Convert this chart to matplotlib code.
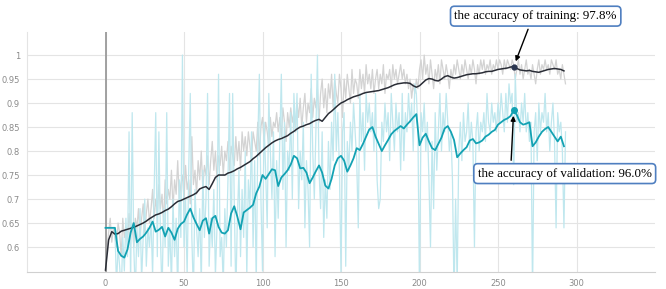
import numpy as np
import matplotlib
matplotlib.use("Agg")
import matplotlib.pyplot as plt

# ---------------------------------------------------------------------------
# data
# ---------------------------------------------------------------------------

# raw training accuracy, one value per epoch (0..293)
train_raw = [
    0.55, 0.60, 0.63, 0.66, 0.61, 0.64, 0.62, 0.60, 0.65, 0.63,
    0.58, 0.66, 0.62, 0.64, 0.61, 0.67, 0.63, 0.65, 0.60, 0.66,
    0.64, 0.68, 0.62, 0.66, 0.69, 0.63, 0.67, 0.70, 0.65, 0.68,
    0.72, 0.66, 0.70, 0.67, 0.73, 0.68, 0.71, 0.65, 0.74, 0.69,
    0.72, 0.70, 0.76, 0.68, 0.74, 0.71, 0.78, 0.70, 0.73, 0.75,
    0.70, 0.77, 0.72, 0.74, 0.69, 0.83, 0.73, 0.76, 0.71, 0.78,
    0.74, 0.80, 0.72, 0.77, 0.75, 0.79, 0.73, 0.78, 0.82, 0.76,
    0.80, 0.74, 0.79, 0.77, 0.81, 0.75, 0.80, 0.78, 0.82, 0.76,
    0.81, 0.79, 0.77, 0.83, 0.78, 0.82, 0.76, 0.84, 0.80, 0.83,
    0.79, 0.84, 0.81, 0.78, 0.84, 0.82, 0.80, 0.86, 0.79, 0.85,
    0.87, 0.82, 0.86, 0.84, 0.81, 0.87, 0.83, 0.86, 0.85, 0.88,
    0.84, 0.87, 0.83, 0.89, 0.86, 0.82, 0.88, 0.85, 0.89, 0.86,
    0.88, 0.84, 0.90, 0.87, 0.91, 0.85, 0.89, 0.92, 0.86, 0.90,
    0.88, 0.93, 0.87, 0.91, 0.89, 0.93, 0.86, 0.92, 0.95, 0.89,
    0.93, 0.88, 0.94, 0.91, 0.96, 0.89, 0.95, 0.92, 0.90, 0.96,
    0.93, 0.87, 0.95, 0.91, 0.96, 0.93, 0.90, 0.97, 0.92, 0.95,
    0.94, 0.91, 0.97, 0.93, 0.96, 0.92, 0.98, 0.94, 0.96, 0.93,
    0.97, 0.92, 0.95, 0.97, 0.93, 0.96, 0.94, 0.98, 0.92, 0.96,
    0.95, 0.97, 0.93, 0.98, 0.95, 0.97, 0.94, 0.96, 0.98, 0.95,
    0.97, 0.94, 0.96, 0.93, 0.95, 0.91, 0.94, 0.92, 0.95, 0.93,
    0.97, 0.99, 0.95, 1.00, 0.96, 0.98, 0.94, 0.99, 0.96, 0.93,
    0.97, 0.95, 0.98, 0.94, 0.99, 0.97, 0.95, 0.98, 0.96, 0.93,
    0.97, 0.95, 0.98, 0.96, 0.99, 0.97, 0.95, 0.98, 0.96, 0.99,
    0.97, 0.95, 0.98, 0.96, 0.99, 0.97, 0.94, 0.98, 0.96, 0.99,
    0.97, 0.99, 0.96, 0.98, 0.97, 0.99, 0.96, 0.98, 0.97, 0.99,
    0.97, 0.99, 0.98, 0.96, 0.99, 0.97, 0.99, 0.98, 0.97, 0.99,
    0.98, 0.95, 0.97, 0.99, 0.96, 0.98, 0.95, 0.97, 0.99, 0.96,
    0.97, 0.95, 0.98, 0.96, 0.94, 0.97, 0.99, 0.96, 0.98, 0.97,
    0.99, 0.97, 0.98, 0.96, 0.99, 0.98, 0.97, 0.99, 0.96, 0.97,
    0.95, 0.98, 0.96, 0.94,
]

# raw validation accuracy, one value per epoch (0..293)
val_raw = [
    0.64, 0.64, 0.64, 0.64, 0.64, 0.64, 0.64, 0.52, 0.60, 0.56,
    0.50, 0.62, 0.55, 0.66, 0.58, 0.84, 0.52, 0.88, 0.60, 0.50,
    0.64, 0.58, 0.68, 0.53, 0.62, 0.70, 0.56, 0.64, 0.60, 0.66,
    0.54, 0.72, 0.88, 0.58, 0.84, 0.62, 0.50, 0.68, 0.60, 0.88,
    0.56, 0.64, 0.52, 0.70, 0.58, 0.66, 0.50, 0.74, 0.62, 1.00,
    0.60, 0.70, 0.54, 0.76, 0.92, 0.62, 0.50, 0.72, 0.64, 0.58,
    0.68, 0.52, 0.76, 0.62, 0.70, 0.92, 0.56, 0.66, 0.60, 0.72,
    0.54, 0.64, 0.96, 0.58, 0.62, 0.52, 0.68, 0.60, 0.74, 0.92,
    0.56, 0.92, 0.70, 0.50, 0.66, 0.76, 0.58, 0.72, 0.62, 0.80,
    0.54, 0.74, 0.68, 0.84, 0.60, 0.78, 0.52, 0.82, 0.96, 0.70,
    0.55, 0.86, 0.76, 0.64, 0.92, 0.80, 0.70, 0.84, 0.58, 0.78,
    0.66, 0.82, 0.96, 0.72, 0.86, 0.60, 0.80, 0.76, 0.88, 0.70,
    0.92, 0.84, 0.92, 0.68, 0.80, 0.74, 0.86, 0.64, 0.78, 0.72,
    0.60, 0.96, 0.80, 0.70, 0.84, 1.00, 0.76, 0.68, 0.84, 0.62,
    0.74, 0.66, 0.82, 0.72, 0.86, 0.78, 0.96, 0.80, 0.88, 0.76,
    0.54, 0.84, 0.88, 0.56, 0.82, 0.76, 0.86, 0.80, 0.90, 0.84,
    0.78, 0.64, 0.92, 0.82, 0.88, 0.76, 0.92, 0.86, 0.90, 0.84,
    0.88, 0.80, 0.92, 0.74, 0.68, 0.70, 0.86, 0.82, 0.90, 0.84,
    0.88, 0.78, 0.92, 0.86, 0.80, 0.90, 0.84, 0.88, 0.76, 0.92,
    0.78, 0.88, 0.84, 0.92, 0.86, 0.90, 0.80, 0.94, 0.92, 0.84,
    0.50, 0.88, 0.84, 0.90, 0.80, 0.86, 0.74, 0.60, 0.82, 0.68,
    0.88, 0.76, 0.84, 0.92, 0.80, 0.88, 0.84, 0.92, 0.86, 0.80,
    0.84, 0.74, 0.50, 0.70, 0.52, 0.80, 0.86, 0.78, 0.88, 0.82,
    0.84, 0.90, 0.80, 0.86, 0.82, 0.60, 0.84, 0.88, 0.80, 0.86,
    0.84, 0.88, 0.82, 0.92, 0.86, 0.84, 0.90, 0.86, 0.88, 0.84,
    0.90, 0.86, 0.92, 0.88, 0.84, 0.92, 0.86, 0.94, 0.90, 0.92,
    0.73, 0.96, 0.86, 0.88, 0.84, 0.90, 0.86, 0.92, 0.84, 0.88,
    0.82, 0.86, 0.50, 0.84, 0.88, 0.78, 0.90, 0.84, 0.88, 0.86,
    0.92, 0.84, 0.88, 0.80, 0.86, 0.90, 0.82, 0.64, 0.88, 0.84,
    0.86, 0.80, 0.64, 0.84,
]

# smoothed curves, every second epoch (0, 2, ..., 292)
train_smooth = [
    0.552, 0.615, 0.632, 0.627, 0.628, 0.633, 0.635, 0.637, 0.639, 0.641,
    0.644, 0.647, 0.650, 0.654, 0.659, 0.663, 0.667, 0.669, 0.672, 0.676,
    0.679, 0.684, 0.690, 0.695, 0.697, 0.700, 0.703, 0.706, 0.709, 0.713,
    0.721, 0.724, 0.726, 0.720, 0.732, 0.745, 0.750, 0.750, 0.750, 0.754,
    0.756, 0.759, 0.763, 0.766, 0.770, 0.774, 0.778, 0.784, 0.789, 0.795,
    0.801, 0.807, 0.812, 0.817, 0.821, 0.824, 0.826, 0.829, 0.832, 0.837,
    0.841, 0.846, 0.850, 0.852, 0.855, 0.857, 0.861, 0.864, 0.866, 0.862,
    0.870, 0.878, 0.883, 0.889, 0.895, 0.900, 0.903, 0.907, 0.910, 0.913,
    0.915, 0.917, 0.920, 0.922, 0.923, 0.924, 0.925, 0.926, 0.928, 0.930,
    0.932, 0.935, 0.938, 0.940, 0.941, 0.942, 0.942, 0.941, 0.936, 0.933,
    0.936, 0.942, 0.948, 0.951, 0.950, 0.947, 0.946, 0.950, 0.955, 0.957,
    0.954, 0.952, 0.953, 0.955, 0.957, 0.959, 0.960, 0.961, 0.961, 0.962,
    0.963, 0.965, 0.966, 0.966, 0.968, 0.970, 0.971, 0.972, 0.973, 0.975,
    0.976, 0.972, 0.969, 0.968, 0.967, 0.968, 0.966, 0.965, 0.964, 0.966,
    0.968, 0.970, 0.971, 0.972, 0.971, 0.970, 0.967,
]
val_smooth = [
    0.640, 0.640, 0.640, 0.640, 0.592, 0.582, 0.578, 0.595, 0.630, 0.650,
    0.610, 0.617, 0.622, 0.630, 0.640, 0.653, 0.632, 0.636, 0.642, 0.622,
    0.640, 0.630, 0.615, 0.638, 0.648, 0.653, 0.668, 0.680, 0.662, 0.648,
    0.635, 0.655, 0.660, 0.628, 0.660, 0.665, 0.642, 0.630, 0.628, 0.635,
    0.670, 0.685, 0.663, 0.637, 0.672, 0.677, 0.682, 0.688, 0.712, 0.726,
    0.750, 0.742, 0.752, 0.762, 0.760, 0.727, 0.745, 0.752, 0.760, 0.772,
    0.790, 0.785, 0.764, 0.765, 0.755, 0.733, 0.745, 0.758, 0.770, 0.755,
    0.728, 0.722, 0.742, 0.770, 0.785, 0.790, 0.780, 0.757, 0.770, 0.785,
    0.806, 0.802, 0.815, 0.830, 0.845, 0.850, 0.830, 0.815, 0.800, 0.812,
    0.823, 0.835, 0.842, 0.847, 0.852, 0.847, 0.855, 0.862, 0.870, 0.877,
    0.812, 0.828, 0.836, 0.820, 0.806, 0.802, 0.815, 0.828, 0.847, 0.852,
    0.840, 0.823, 0.787, 0.795, 0.802, 0.808, 0.822, 0.825, 0.816, 0.818,
    0.822, 0.830, 0.834, 0.840, 0.844, 0.855, 0.860, 0.865, 0.868, 0.873,
    0.885, 0.875, 0.860, 0.855, 0.857, 0.860, 0.810, 0.818, 0.830, 0.840,
    0.846, 0.850, 0.840, 0.830, 0.820, 0.830, 0.810,
]

epochs_raw = np.arange(len(train_raw))
epochs_smooth = np.arange(len(train_smooth)) * 2

train_label = "the accuracy of training: 97.8%"
val_label = "the accuracy of validation: 96.0%"

# ---------------------------------------------------------------------------
# plot
# ---------------------------------------------------------------------------

fig = plt.figure(figsize=(6.66, 2.89), dpi=100)
ax = fig.add_axes([27 / 666, 17 / 289, 628 / 666, 240 / 289])

ax.plot(epochs_raw, train_raw, color="#d3d3d3", lw=0.9, zorder=2)
ax.plot(epochs_raw, val_raw, color="#bfe7ee", lw=0.9, zorder=2)
ax.plot(epochs_smooth, train_smooth, color="#2a2d36", lw=1.1, zorder=4)
ax.plot(epochs_smooth, val_smooth, color="#13a2b3", lw=1.3, zorder=4)

# highlighted points (best values of the smoothed curves)
i_tr = int(np.argmax(train_smooth))
i_va = int(np.argmax(val_smooth))
ax.plot(epochs_smooth[i_tr], train_smooth[i_tr], "o", color="#2a3550", ms=3.5, zorder=5)
ax.plot(epochs_smooth[i_va], val_smooth[i_va], "o", color="#13a2b3", ms=4, zorder=5)

ax.axvline(0, color="#9a9a9a", lw=1.3, zorder=3)

ax.set_xlim(-50, 350)
ax.set_ylim(0.548, 1.048)
ax.set_xticks([0, 50, 100, 150, 200, 250, 300])
ax.set_yticks([0.6, 0.65, 0.7, 0.75, 0.8, 0.85, 0.9, 0.95, 1.0])
ax.set_yticklabels(["0.6", "0.65", "0.7", "0.75", "0.8", "0.85", "0.9", "0.95", "1"])
ax.tick_params(length=0, labelsize=6, labelcolor="#8a8a8a", pad=5)
ax.grid(True, color="#e4e4e4", lw=0.8, zorder=0)
for side in ["top", "right"]:
    ax.spines[side].set_visible(False)
ax.spines["left"].set_color("#e4e4e4")
ax.spines["bottom"].set_color("#d0d0d0")

box = dict(boxstyle="round,pad=0.3,rounding_size=0.3", fc="white", ec="#4f7fc0", lw=1.2)
ax.annotate(train_label, xy=(epochs_smooth[i_tr], train_smooth[i_tr]), xytext=(274, 1.081),
            ha="center", va="center", fontsize=9.4, family="Liberation Serif",
            bbox=box, annotation_clip=False, zorder=6,
            arrowprops=dict(arrowstyle="-|>", color="black", lw=1, mutation_scale=7,
                            relpos=(0.47, 0.0), shrinkA=2, shrinkB=4))
ax.annotate(val_label, xy=(epochs_smooth[i_va], val_smooth[i_va]), xytext=(292.5, 0.753),
            ha="center", va="center", fontsize=9.4, family="Liberation Serif",
            bbox=box, annotation_clip=False, zorder=6,
            arrowprops=dict(arrowstyle="-|>", color="black", lw=1, mutation_scale=7,
                            relpos=(0.19, 1.0), shrinkA=2, shrinkB=4))

fig.savefig("out.png", dpi=100)
